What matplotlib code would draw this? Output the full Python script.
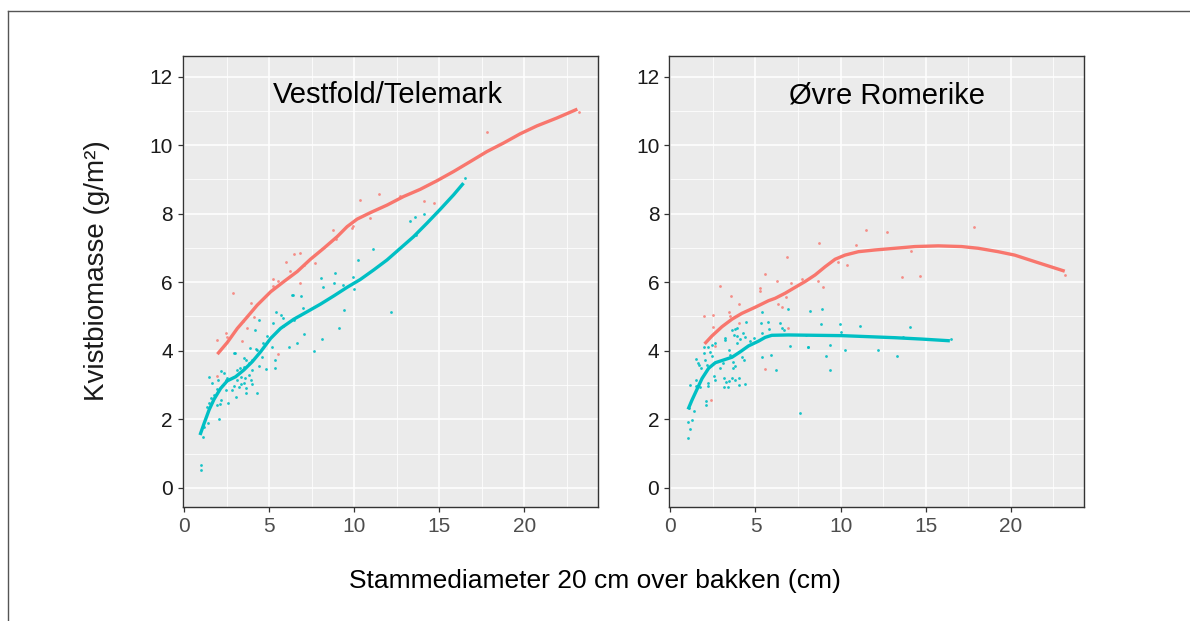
import matplotlib
matplotlib.use("Agg")
import matplotlib.pyplot as plt
from matplotlib.lines import Line2D
from matplotlib.ticker import MultipleLocator

plt.rcParams['font.family'] = ['Liberation Sans', 'DejaVu Sans']

RED = "#F8766D"
CYAN = "#00BFC4"

# --- Vestfold/Telemark ---
vt_red_x = [1.92, 2.45, 2.54, 2.90, 3.42, 3.48, 3.72, 3.95, 4.11, 5.24, 5.24, 5.53, 5.51,
            6.00, 6.22, 6.49, 6.80, 6.84, 7.04, 7.67, 8.76, 8.94, 9.84, 9.91, 10.36, 10.91,
            11.44, 12.71, 14.12, 14.66, 17.83, 23.19, 1.94]
vt_red_y = [4.32, 4.53, 4.41, 5.68, 4.28, 4.88, 4.65, 5.38, 4.99, 6.08, 5.89, 6.02, 3.90,
            6.59, 6.32, 6.82, 6.84, 5.97, 6.50, 6.55, 7.52, 7.25, 7.57, 7.64, 8.40, 7.88,
            8.58, 8.52, 8.38, 8.32, 10.39, 10.97, 3.27]

vt_cyan_x = [1.02, 1.02, 1.11, 1.17, 1.43, 1.33, 1.47, 1.61, 1.76, 2.04, 1.96, 2.11, 2.19,
             1.92, 1.66, 1.47, 2.02, 2.15, 2.35, 2.45, 2.54, 2.49, 2.60, 2.84, 2.93, 3.07,
             3.13, 3.23, 3.33, 3.52, 3.62, 3.62, 3.33, 3.56, 3.81, 3.91, 4.01, 4.30, 3.13,
             3.28, 3.52, 3.62, 3.52, 3.81, 4.01, 3.97, 4.40, 4.79, 5.32, 5.32, 4.60, 2.97,
             2.93, 3.87, 4.21, 4.30, 4.66, 4.89, 4.17, 4.40, 5.18, 5.24, 5.38, 5.67, 5.83,
             5.83, 6.16, 6.61, 6.41, 6.89, 6.45, 7.06, 7.62, 8.08, 8.19, 9.11, 7.00, 8.06,
             8.86, 8.80, 9.35, 9.37, 9.93, 10.01, 10.21, 11.13, 12.16, 13.30, 13.59, 13.61,
             14.08, 16.48, 6.36]
vt_cyan_y = [0.66, 0.52, 1.49, 1.78, 1.88, 2.37, 2.46, 2.61, 2.71, 2.00, 2.41, 2.44, 2.56,
             2.87, 3.07, 3.24, 3.16, 3.42, 3.36, 3.14, 3.19, 2.85, 2.48, 2.85, 2.97, 2.66,
             3.14, 2.93, 3.02, 3.05, 2.90, 2.76, 3.22, 3.19, 3.29, 3.14, 3.03, 2.77, 3.44,
             3.51, 3.53, 3.73, 3.78, 3.63, 3.73, 3.44, 3.55, 3.46, 3.73, 3.51, 3.83, 3.94,
             3.94, 4.07, 4.04, 4.02, 4.23, 4.43, 4.60, 4.90, 4.12, 4.82, 5.12, 5.04, 4.95,
             4.72, 4.12, 4.22, 5.63, 5.61, 4.90, 4.49, 3.99, 4.34, 5.87, 4.67, 5.25, 6.11,
             6.26, 5.99, 5.93, 5.19, 6.14, 5.81, 6.65, 6.98, 5.12, 7.79, 7.89, 7.37,
             7.98, 9.05, 5.64]

# smoothed curves
vt_red_fit_x = [1.96, 2.54, 3.13, 3.72, 4.30, 5.09, 5.87, 6.65, 7.43, 8.21, 9.00, 9.58,
                10.17, 10.95, 11.93, 12.90, 13.88, 14.86, 15.84, 16.82, 17.79, 18.77,
                19.75, 20.73, 21.90, 23.11]
vt_red_fit_y = [3.90, 4.24, 4.65, 4.99, 5.33, 5.72, 6.02, 6.31, 6.67, 6.99, 7.33, 7.62,
                7.84, 8.03, 8.25, 8.50, 8.71, 8.96, 9.23, 9.52, 9.81, 10.06,
                10.33, 10.56, 10.79, 11.05]
vt_cyan_fit_x = [0.94, 1.18, 1.47, 1.76, 2.15, 2.54, 3.03, 3.52, 4.01, 4.50, 5.09, 5.67,
                 6.45, 7.24, 8.02, 8.80, 9.58, 10.36, 11.15, 11.93, 12.71, 13.49, 14.27,
                 15.06, 15.84, 16.42]
vt_cyan_fit_y = [1.54, 1.88, 2.27, 2.58, 2.90, 3.12, 3.24, 3.44, 3.68, 3.97, 4.36, 4.65,
                 4.92, 5.14, 5.36, 5.60, 5.85, 6.08, 6.36, 6.65, 6.99, 7.33, 7.72,
                 8.13, 8.55, 8.89]

# --- Øvre Romerike ---
or_red_x = [1.99, 2.50, 2.50, 2.93, 3.46, 3.58, 4.01, 3.48, 4.01, 2.40, 2.64, 5.57, 5.28,
            5.28, 5.57, 6.26, 6.35, 6.55, 6.79, 6.88, 7.10, 6.90, 7.72, 8.70, 8.99, 8.76,
            9.87, 10.40, 10.91, 11.48, 12.74, 13.63, 14.13, 14.68, 17.85, 23.17]
or_red_y = [5.02, 5.04, 4.68, 5.89, 5.14, 5.60, 5.36, 5.02, 4.82, 2.56, 4.15, 6.24, 5.82,
            5.75, 3.47, 6.04, 5.36, 5.27, 5.58, 6.74, 5.99, 4.65, 6.09, 6.02, 5.85, 7.15,
            6.60, 6.50, 7.09, 7.52, 7.45, 6.14, 6.90, 6.17, 7.60, 6.20]

or_cyan_x = [1.04, 1.17, 1.01, 1.27, 1.08, 1.37, 1.15, 1.50, 1.50, 1.76, 2.19, 2.19, 2.07,
             2.07, 1.50, 1.62, 1.70, 1.82, 1.96, 2.05, 2.15, 1.96, 2.19, 2.35, 2.44, 2.44,
             2.64, 2.54, 2.64, 2.89, 3.09, 3.13, 3.27, 3.42, 3.13, 3.38, 3.18, 3.23, 3.42,
             3.52, 3.62, 3.77, 3.91, 3.71, 3.91, 3.66, 3.77, 3.66, 3.62, 3.77, 4.01, 4.01,
             4.36, 3.91, 4.07, 4.26, 4.40, 4.20, 4.30, 4.44, 4.69, 4.89, 5.38, 5.34, 5.73,
             5.38, 5.81, 5.38, 5.92, 6.20, 6.45, 6.55, 6.65, 6.90, 7.04, 7.62, 8.11, 8.21,
             8.90, 8.84, 9.97, 11.14, 14.08, 7.98, 10.03, 8.09, 9.38, 10.26, 12.18, 9.15,
             13.30, 9.38, 13.65, 16.48]
or_cyan_y = [1.44, 1.73, 1.93, 1.98, 2.32, 2.25, 3.00, 3.14, 2.96, 2.95, 3.07, 2.96, 2.53,
             2.41, 3.75, 3.65, 3.58, 3.49, 3.92, 3.73, 3.58, 4.12, 4.12, 3.97, 3.85, 4.17,
             4.22, 3.26, 3.14, 3.51, 3.63, 3.19, 3.09, 3.12, 2.95, 2.95, 4.36, 4.31, 4.02,
             3.87, 4.60, 4.62, 4.65, 4.46, 4.43, 3.68, 3.55, 3.49, 3.21, 3.16, 3.19, 3.00,
             3.03, 4.22, 4.33, 4.51, 4.39, 3.83, 3.73, 4.85, 4.29, 4.36, 5.12, 4.82, 4.84,
             4.53, 4.62, 3.83, 3.87, 3.44, 4.82, 4.65, 4.60, 5.21, 4.14, 2.19, 4.12, 5.15,
             5.21, 4.77, 4.77, 4.72, 4.69, 4.46, 4.55, 4.12, 4.16, 4.03, 4.02, 3.86,
             3.85, 3.44, 4.41, 4.34]

or_red_fit_x = [2.01, 2.44, 3.03, 3.62, 4.20, 4.99, 5.77, 6.16, 6.75, 7.33, 7.92, 8.50,
                9.09, 9.68, 10.26, 11.05, 12.02, 13.20, 14.37, 15.74, 17.11, 18.08,
                19.26, 20.23, 21.41, 23.17]
or_red_fit_y = [4.20, 4.43, 4.70, 4.92, 5.09, 5.27, 5.46, 5.53, 5.68, 5.85, 6.02, 6.21,
                6.45, 6.67, 6.79, 6.89, 6.94, 6.99, 7.04, 7.06, 7.04, 6.99,
                6.89, 6.79, 6.60, 6.32]
or_cyan_fit_x = [1.04, 1.27, 1.56, 1.86, 2.25, 2.64, 3.13, 3.62, 4.11, 4.59, 5.18, 5.57,
                 5.96, 6.94, 8.50, 10.07, 11.63, 13.20, 14.76, 16.42]
or_cyan_fit_y = [2.29, 2.56, 2.87, 3.19, 3.49, 3.65, 3.73, 3.81, 3.97, 4.14, 4.28, 4.39,
                 4.45, 4.46, 4.45, 4.44, 4.41, 4.38, 4.34, 4.29]

panels = [
    ("Vestfold/Telemark", 12.0, vt_red_x, vt_red_y, vt_cyan_x, vt_cyan_y,
     vt_red_fit_x, vt_red_fit_y, vt_cyan_fit_x, vt_cyan_fit_y),
    ("Øvre Romerike", 12.7, or_red_x, or_red_y, or_cyan_x, or_cyan_y,
     or_red_fit_x, or_red_fit_y, or_cyan_fit_x, or_cyan_fit_y),
]

fig = plt.figure(figsize=(11.9, 6.21), dpi=100)
lefts = [0.1535, 0.5622]

for left, p in zip(lefts, panels):
    title, tx, rx, ry, cx, cy, rfx, rfy, cfx, cfy = p
    ax = fig.add_axes([left, 0.1836, 0.3487, 0.7262])
    ax.set_facecolor("#EBEBEB")
    ax.scatter(rx, ry, s=4, color=RED, alpha=0.8, linewidths=0, zorder=3)
    ax.scatter(cx, cy, s=4, color=CYAN, alpha=0.9, linewidths=0, zorder=3)
    ax.plot(rfx, rfy, color=RED, lw=2.4, solid_capstyle='butt', solid_joinstyle='round', zorder=4)
    ax.plot(cfx, cfy, color=CYAN, lw=2.4, solid_capstyle='butt', solid_joinstyle='round', zorder=4)
    ax.set_xlim(-0.08, 24.3)
    ax.set_ylim(-0.56, 12.6)
    ax.xaxis.set_major_locator(MultipleLocator(5))
    ax.xaxis.set_minor_locator(MultipleLocator(2.5))
    ax.yaxis.set_major_locator(MultipleLocator(2))
    ax.yaxis.set_minor_locator(MultipleLocator(1))
    ax.grid(which='major', color='white', lw=1.1)
    ax.grid(which='minor', color='white', lw=0.55)
    ax.set_axisbelow(True)
    for s in ax.spines.values():
        s.set_color("#333333")
        s.set_linewidth(1.0)
    ax.tick_params(which='major', length=3.5, width=0.9, color="#333333", labelsize=15)
    ax.tick_params(which='minor', length=0)
    ax.tick_params(axis='x', labelcolor="#4D4D4D")
    ax.tick_params(axis='y', labelcolor="#1A1A1A")
    ax.text(tx, 11.45, title, ha='center', va='center', fontsize=21, color='black')

fig.text(0.0813, 0.565, "Kvistbiomasse (g/m²)", rotation=90, ha='center', va='center',
         fontsize=20, color='#1A1A1A')
fig.text(0.5, 1 - 581 / 621, "Stammediameter 20 cm over bakken (cm)", ha='center',
         va='center', fontsize=19, color='black')

# outer frame lines (top and left)
fig.add_artist(Line2D([8 / 1190, 1.0], [1 - 10.5 / 621] * 2, color="#555555", lw=1.0))
fig.add_artist(Line2D([8 / 1190] * 2, [0.0, 1 - 10.5 / 621], color="#555555", lw=1.0))

fig.savefig("out.png", dpi=100)
